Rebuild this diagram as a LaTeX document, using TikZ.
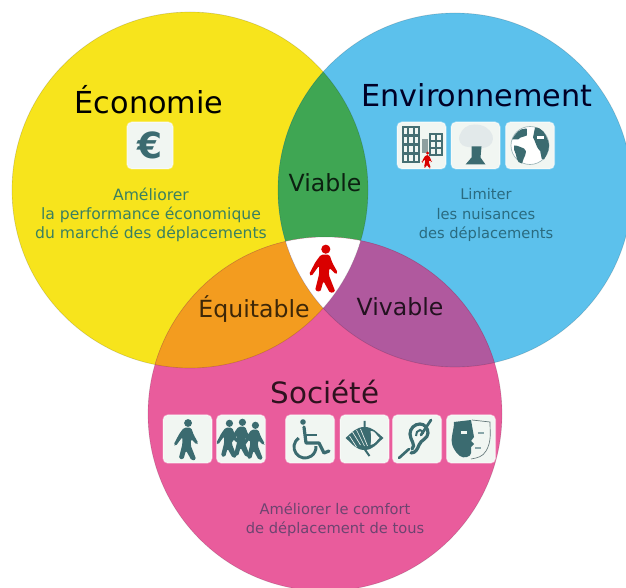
\documentclass[tikz,border=0pt]{standalone}
\usepackage{fontspec}
\setmainfont{DejaVu Sans}
\definecolor{cy}{HTML}{F7E41C}
\definecolor{cb}{HTML}{5CC1EC}
\definecolor{cp}{HTML}{E95C9C}
\definecolor{cg}{HTML}{3FA653}
\definecolor{co}{HTML}{F39C1F}
\definecolor{cv}{HTML}{B0599E}
\definecolor{glyph}{HTML}{3B6B70}
\definecolor{boxc}{HTML}{F1F6F2}
\definecolor{ty}{HTML}{3A8060}
\definecolor{tb}{HTML}{2A6B80}
\definecolor{tp}{HTML}{6E4470}
\def\cya{(190,190) circle[radius=178]}
\def\cbl{(455,190) circle[radius=177]}
\def\cpk{(325,414) circle[radius=177]}
\tikzset{
 title/.style={font=\fontsize{22.7}{26}\selectfont,inner sep=0pt},
 zone/.style={font=\fontsize{17.7}{20}\selectfont,inner sep=0pt},
 sub/.style={font=\fontsize{11}{14.4}\selectfont,align=center,inner sep=0pt},
 iconbox/.style={fill=boxc,rounded corners=3.5pt,draw=white,draw opacity=.45,line width=1pt},
 edge/.style={draw=black,draw opacity=.15,line width=.5pt},
 pics/walker/.style={code={
  \fill[#1] (1.5,-16.5) circle[radius=3.8];
  \fill[#1,rounded corners=1.2pt] (-2.5,-12)--(4.5,-12)--(7,-5)--(11.5,3)--(10,4.5)--(4.5,-1)--(4,5)--(9.5,19)--(5,20)--(-0.5,10)--(-3,19)--(-7.5,18)--(-4,4)--(-4,-3)--(-10.5,6)--(-12.5,4.5)--(-7,-6)--cycle;
 }}
}
\begin{document}
\begin{tikzpicture}[x=0.75pt,y=-0.75pt]
\useasboundingbox (0,0) rectangle (626,588);
\fill[white] (0,0) rectangle (626,588);
\begin{scope}
\clip (0,0) rectangle (626,588);
\fill[cy] \cya;
\fill[cb] \cbl;
\fill[cp] \cpk;
\begin{scope}\clip \cya; \fill[cg] \cbl; \end{scope}
\begin{scope}\clip \cya; \fill[co] \cpk; \end{scope}
\begin{scope}\clip \cbl; \fill[cv] \cpk; \end{scope}
\begin{scope}\clip \cya; \clip \cbl; \fill[white] \cpk; \end{scope}
\draw[edge] \cya; \draw[edge] \cbl; \draw[edge] \cpk;
\end{scope}
% texts
\node[title,text=black] (t1) at (149,100) {Économie};
\node[title,text=black!85!blue] (t2) at (477,95) {Environnement};
\node[title,font=\fontsize{22}{26}\selectfont,text=black!80!cp] (t3) at (325,392) {Société};
\node[zone,text=black!80!cg] (z1) at (325,183) {Viable};
\node[zone,text=black!75!co] (z2) at (254,309) {Équitable};
\node[zone,text=black!80!cv] (z3) at (400,307) {Vivable};
\node[sub,font=\fontsize{11.7}{14.4}\selectfont,text=ty] (s1) at (151,215) {Améliorer\\la performance économique\\du marché des déplacements};
\node[sub,text=tb] (s2) at (486,215) {Limiter\\les nuisances\\des déplacements};
\node[sub,text=tp] (s3) at (335,520) {Améliorer le comfort\\de déplacement de tous};
% euro
\node[iconbox,minimum width=34.5pt,minimum height=35pt] (b1) at (150,145.5) {};
\node[text=glyph,inner sep=0pt,font=\fontsize{27}{30}\bfseries\selectfont] (eur) at (150,145) {€};
% environment
\node[iconbox,minimum width=36.5pt,minimum height=35pt] (b2) at (421.5,145.5) {};
\node[iconbox,minimum width=36.5pt,minimum height=35pt] (b3) at (475.5,145.5) {};
\node[iconbox,minimum width=36.5pt,minimum height=35pt] (b4) at (530,145.5) {};
% buildings
\begin{scope}[shift={(421.5,145.5)}]
 \fill[glyph!85!gray] (-20,-19) rectangle (-2,18);
 \foreach \i in {0,1,2}\foreach \j in {0,1,2,3}{\fill[boxc] (-18+\i*5.5,-17+\j*9) rectangle ++(3.6,6);}
 \fill[glyph!85!gray] (7,-12) rectangle (21,11);
 \foreach \i in {0,1}\foreach \j in {0,1,2}{\fill[boxc] (9+\i*6,-10+\j*7) rectangle ++(4,5);}
 \fill[glyph!50!gray!70] (0,-6) rectangle (6,8);
\end{scope}
\pic[scale=.42] at (427,160) {walker={red!85!black}};
% tree
\begin{scope}[shift={(475.5,145.5)}]
 \fill[white!85!glyph] (-1,-21) to[out=180,in=70] (-16,-10) to[out=250,in=170] (-10,1) to[out=-10,in=190] (10,2) to[out=10,in=290] (17,-10) to[out=110,in=0] cycle;
 \fill[glyph] (-4,1)--(6,1)--(5,12)--(10,19)--(-10,19)--(-4,12)--cycle;
\end{scope}
% globe
\begin{scope}[shift={(530,145.5)}]
 \fill[white] (0,0) circle[radius=19];
 \draw[glyph!50,line width=.5pt] (0,0) circle[radius=19];
 \fill[glyph] (-18,-6) to[out=60,in=180] (-4,-17) to[out=0,in=120] (-3,-12) to[out=-60,in=60] (-12,-6) -- cycle;
 \fill[glyph] (-16,0) to[out=0,in=160] (-6,3) to[out=-30,in=80] (-8,18) to[out=180,in=-60] (-16,4) -- cycle;
 \fill[glyph] (5,-18) to[out=0,in=110] (18,-5) to[out=-70,in=60] (14,14) to[out=200,in=-20] (8,3) to[out=120,in=-60] (3,-8) -- cycle;
 \fill[white] (7,-9) rectangle (14,-6);
\end{scope}
% society icons
\foreach \n/\x in {c1/187.5,c2/241,c3/310,c4/364.5,c5/417,c6/471}{
 \node[iconbox,minimum width=36.5pt,minimum height=36pt] (\n) at (\x,439) {};
}
\pic[scale=1.03] at (186.5,440) {walker=glyph};
\pic[scale=.95] at (228,439) {walker=glyph};
\pic[scale=.95] at (241,438) {walker=glyph};
\pic[scale=.95] at (254,441) {walker=glyph};
% wheelchair
\begin{scope}[shift={(310,439)}]
 \fill[glyph] (-7,-17) circle[radius=2.8];
 \draw[glyph,line width=2.4pt,line cap=round,line join=round] (-6,-12)--(-4,4)--(9,4)--(14,14)--(19,12);
 \draw[glyph,line width=2pt] (-5,-4)--(7,-4);
 \draw[glyph,line width=2.2pt] (-11.3,-1) arc[start angle=235,end angle=-5,radius=11];
\end{scope}
% eye
\begin{scope}[shift={(364.5,439)}]
 \fill[glyph] (-19,-1) to[out=40,in=180] (0,-12) to[out=0,in=140] (19,-1) to[out=220,in=0] (0,11) to[out=180,in=-40] cycle;
 \fill[boxc] (6,-8) to[out=10,in=140] (15,-1) to[out=220,in=10] (6,6) to[out=80,in=-80] cycle;
 \draw[boxc,line width=.5pt] (-12,-7)--(-4,6) (-8,-9)--(0,7) (-4,-10)--(3,7) (-15,-3)--(-8,8);
 \draw[glyph,line width=1.5pt] (0,-18)--(0,-10) (0,10)--(5,17);
\end{scope}
% ear
\begin{scope}[shift={(417,439)}]
 \draw[glyph,line width=2.4pt,line cap=round] (-5,10) to[out=40,in=-90] (-7,-5) to[out=90,in=180] (3,-15) to[out=0,in=90] (11,-6) to[out=-90,in=70] (2,6) to[out=-110,in=0] (-6,14);
 \draw[glyph,line width=1.5pt] (-1,-3) to[out=90,in=180] (3,-9) to[out=0,in=90] (6,-5);
 \draw[glyph,line width=2pt,line cap=round] (-18,19)--(-8,10) (4,-4)--(14,-19);
\end{scope}
% masks
\begin{scope}[shift={(471,439)}]
 \fill[glyph] (0,-19)--(-17,-17) to[out=-90,in=120] (-17,10) to[out=-60,in=200] (-4,18) to[out=20,in=-90] (0,14) --(0,8)--(3,5)--(0,2)--(3,-2)--cycle;
 \fill[boxc] (-10,-8) rectangle (-4,-5);
 \draw[glyph!40!gray,line width=.5pt] (1,-19)--(19,-17) to[out=-90,in=60] (15,12) to[out=-120,in=10] (0,20);
 \draw[glyph!60,line width=.9pt] (7,-6)--(13,-6) (4,9)--(10,9);
\end{scope}
% central walker
\pic[scale=1.2] at (324,269) {walker={red!85!black}};
\end{tikzpicture}
\end{document}
